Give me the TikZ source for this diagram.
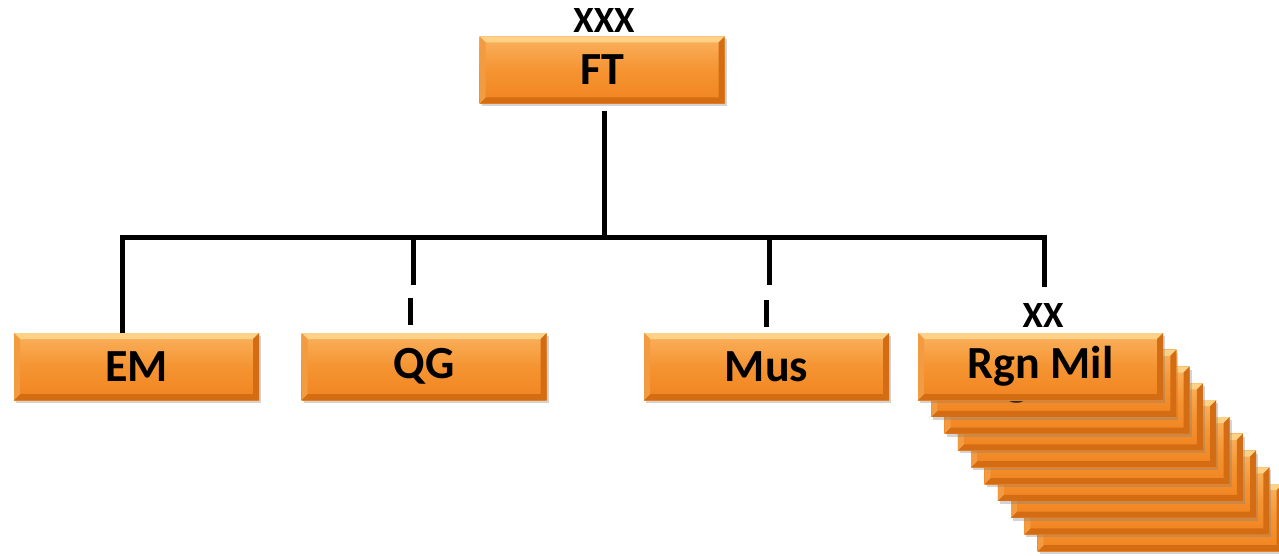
\documentclass[tikz,border=0pt]{standalone}
\usepackage{fontspec}
\setmainfont{Carlito}
\usetikzlibrary{shadows}
\definecolor{oTop}{RGB}{250,178,95}
\definecolor{oMid}{RGB}{245,148,50}
\definecolor{oBot}{RGB}{240,132,32}
\definecolor{oHi}{RGB}{253,210,135}
\definecolor{oSide}{RGB}{242,155,65}
\definecolor{oDark}{RGB}{212,108,20}
\tikzset{
  unit/.style={minimum width=245pt, minimum height=67pt, inner sep=0pt,
    top color=oTop, bottom color=oBot, middle color=oMid,
    font=\fontsize{46}{46}\selectfont\bfseries,
    drop shadow={shadow xshift=2pt, shadow yshift=-3pt, opacity=0.35},
    path picture={
      \coordinate (nw) at (path picture bounding box.north west);
      \coordinate (se) at (path picture bounding box.south east);
      \fill[oHi] (nw) -- (nw -| se) -- ([shift={(-6pt,-6pt)}]nw -| se) -- ([shift={(6pt,-6pt)}]nw) -- cycle;
      \fill[oDark] (se) -- (se |- nw) -- ([shift={(-6pt,-6pt)}]se |- nw) -- ([shift={(-6pt,6pt)}]se) -- cycle;
      \fill[oDark] (se) -- (nw |- se) -- ([shift={(6pt,6pt)}]nw |- se) -- ([shift={(-6pt,6pt)}]se) -- cycle;
      \fill[oSide] (nw) -- (nw |- se) -- ([shift={(6pt,6pt)}]nw |- se) -- ([shift={(6pt,-6pt)}]nw) -- cycle;
    }},
  backunit/.style={unit, text height=30pt, text depth=22pt},
  conn/.style={line width=5pt, black},
  echelon/.style={font=\fontsize{37}{37}\selectfont\bfseries, inner sep=0pt}
}
\begin{document}
\begin{tikzpicture}[x=1pt,y=-1pt]
\useasboundingbox (0,0) rectangle (1279,556);
% stacked regional boxes (back to front)
\foreach \i in {9,8,...,2} {
  \node[backunit] (rgn\i) at ({1040.5+13.3*\i},{366.5+16.8*\i}) {Rgn Mil};
}
\node[unit] (rgn1) at (1053.8,383.3) {Rgn Mil};
\node[unit] (rgn) at (1040.5,366.5) {Rgn Mil};
\node[unit] (ft) at (602,70) {FT};
\node[unit] (em) at (136.5,366.5) {EM};
\node[unit] (qg) at (424,366.5) {QG};
\node[unit] (mus) at (766.5,366.5) {Mus};
\node[echelon] (xxx) at (604,21) {XXX};
\node[echelon] (xx) at (1043,316) {XX};
% connectors
\coordinate (bus) at (604,237);
\coordinate (busR) at (1044,237);
\coordinate (rgnEnd) at (1044,287);
\coordinate (qgTop) at (413,237);
\coordinate (qgEnd) at (413,285);
\coordinate (qgD1) at (410,298);
\coordinate (qgD2) at (410,325);
\coordinate (musTop) at (769,237);
\coordinate (musEnd) at (769,285);
\coordinate (musD1) at (766,300);
\coordinate (musD2) at (766,327);
\draw[conn] (bus |- ft.south) ++(0,7) -- (bus);
\draw[conn] ([xshift=-14.5pt]em.north) |- (bus) -- (busR) -- (rgnEnd);
\draw[conn] (qgTop) -- (qgEnd);
\draw[conn] (qgD1) -- (qgD2);
\draw[conn] (musTop) -- (musEnd);
\draw[conn] (musD1) -- (musD2);
\end{tikzpicture}
\end{document}
